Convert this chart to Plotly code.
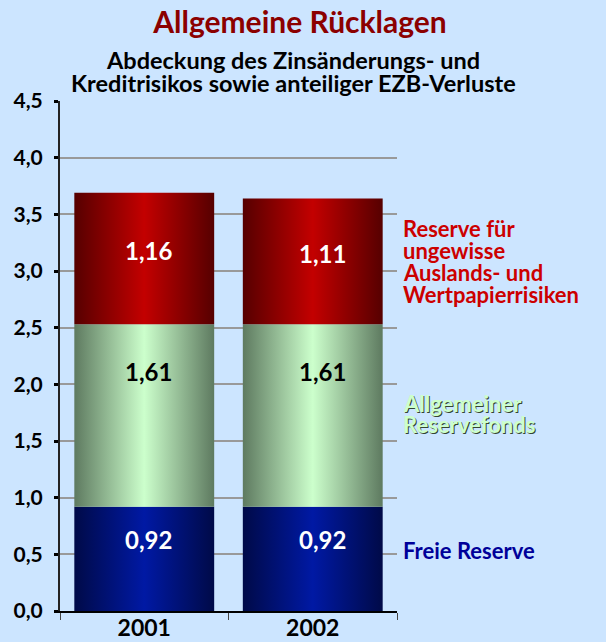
import plotly.graph_objects as go

years = ["2001", "2002"]
freie_reserve = [0.92, 0.92]
allg_reservefonds = [1.61, 1.61]
reserve_risiken = [1.16, 1.11]
y_ticks = [0, 0.5, 1.0, 1.5, 2.0, 2.5, 3.0, 3.5, 4.0, 4.5]

title_text = "Allgemeine Rücklagen"
subtitle_lines = ["Abdeckung des Zinsänderungs- und",
                  "Kreditrisikos sowie anteiliger EZB-Verluste"]
label_red = ["Reserve für", "ungewisse", "Auslands- und", "Wertpapierrisiken"]
label_green = ["Allgemeiner", "Reservefonds"]
label_blue = ["Freie Reserve"]

# (values, edge colour, centre colour, label colour, label position fraction)
series = [
    (freie_reserve, "#000a48", "#0019a4", "#ffffff", 0.685),
    (allg_reservefonds, "#5e7a60", "#ccffcc", "#000000", 0.74),
    (reserve_risiken, "#560000", "#c30000", "#ffffff", 0.56),
]

W, H = 606, 642
L, R, T, B = 60, 209, 101, 31
PW = W - L - R
PH = H - T - B
BAR_W = 0.83
FONT = "Lato"
label_xshift = [4, 10]


def px(p):
    """pixel column -> paper x"""
    return (p - L) / PW


def py(p):
    """pixel row -> paper y"""
    return (H - B - p) / PH


def dy(p):
    """pixel row -> data y"""
    return py(p) * 4.5


fig = go.Figure()
ann = []
base = [0.0 for _ in years]
for vals, edge, center, tcol, frac in series:
    for i, v in enumerate(vals):
        x0, x1 = i - BAR_W / 2, i + BAR_W / 2
        y0, y1 = base[i], base[i] + v
        fig.add_trace(go.Scatter(
            x=[x0, x1, x1, x0, x0], y=[y0, y0, y1, y1, y0],
            mode="lines", line=dict(width=0), fill="toself",
            fillgradient=dict(type="horizontal",
                              colorscale=[[0, edge], [0.5, center], [1, edge]]),
            showlegend=False, hoverinfo="skip",
        ))
        ann.append(dict(
            x=i, y=y0 + frac * v, xref="x", yref="y", xshift=label_xshift[i],
            text=f"{v:.2f}".replace(".", ","), showarrow=False,
            font=dict(family=FONT, size=24, color=tcol, weight="bold"),
        ))
        base[i] = y1

# right-side series labels, one annotation per line
for lines, rows, col, shadow in [
    (label_red, [228, 250, 272, 294], "#cc0000", "none"),
    (label_green, [403, 424], "#ccffcc", "1px 1px 0px #334433"),
    (label_blue, [550], "#000099", "none"),
]:
    for txt, p in zip(lines, rows):
        ann.append(dict(
            x=px(401), y=dy(p), xref="paper", yref="y", xanchor="left", yanchor="middle",
            text=txt, showarrow=False,
            font=dict(family=FONT, size=22, color=col, weight="bold", shadow=shadow),
        ))

# subtitle lines
for txt, p in zip(subtitle_lines, [60, 83]):
    ann.append(dict(
        x=px(293), y=py(p), xref="paper", yref="paper",
        xanchor="center", yanchor="middle", text=txt, showarrow=False,
        font=dict(family=FONT, size=23.5, color="#000000", weight="bold"),
    ))

fig.update_layout(
    width=W, height=H,
    paper_bgcolor="#cce5ff", plot_bgcolor="#cce5ff",
    separators=",.",
    margin=dict(l=L, r=R, t=T, b=B, autoexpand=False),
    showlegend=False,
    title=dict(text=title_text, x=300 / W, xref="container", xanchor="center",
               y=(H - 22) / H, yref="container", yanchor="middle",
               font=dict(family=FONT, size=30, color="#8b0000", weight="bold")),
    annotations=ann,
    xaxis=dict(
        range=[-0.5, 1.5], tickvals=[0, 1], ticktext=years, ticks="",
        showgrid=False, zeroline=False, automargin=False,
        showline=True, linecolor="#000000", linewidth=2,
        ticklabelstandoff=-5,
        tickfont=dict(family=FONT, size=23, color="#000000", weight="bold"),
        minor=dict(tick0=-0.5, dtick=1, ticks="outside", ticklen=7, tickwidth=1,
                   tickcolor="#444444", showgrid=False),
    ),
    yaxis=dict(
        range=[0, 4.5], tickvals=y_ticks, tickformat=".1f", automargin=False,
        showgrid=True, gridcolor="#999999", gridwidth=2, zeroline=False,
        showline=True, linecolor="#222222", linewidth=2,
        ticks="outside", ticklen=4, tickwidth=3, tickcolor="#000000",
        ticklabelstandoff=7,
        tickfont=dict(family=FONT, size=21, color="#000000", weight="bold"),
    ),
)

fig.write_html("out.html", config={"displayModeBar": False},
               post_script="document.body.style.margin='0';")
